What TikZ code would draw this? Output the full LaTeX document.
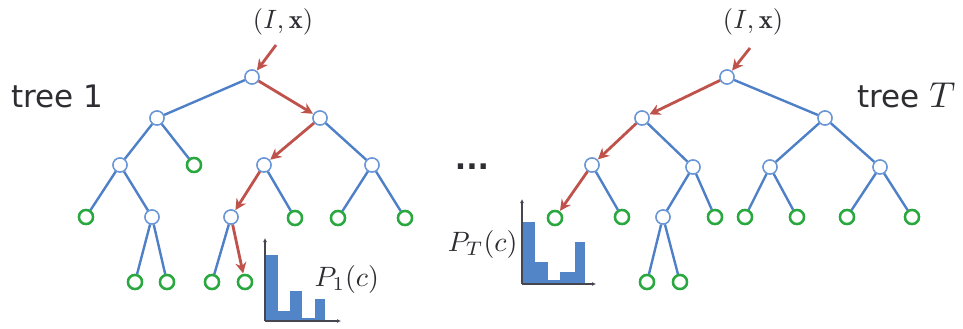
\documentclass[tikz,border=0pt]{standalone}
\usepackage{fontspec}
\setsansfont{DejaVu Sans}
\usetikzlibrary{arrows.meta}
\definecolor{edgeblue}{RGB}{78,128,200}
\definecolor{ringblue}{RGB}{105,150,215}
\definecolor{leafgreen}{RGB}{40,168,62}
\definecolor{pathred}{RGB}{192,82,76}
\definecolor{barblue}{RGB}{82,132,200}
\definecolor{axisgray}{RGB}{70,70,80}
\definecolor{inkgray}{RGB}{45,45,50}
\tikzset{
  inner/.style={circle,draw=ringblue,line width=1.4pt,fill=white,minimum size=14pt,inner sep=0pt},
  leaf/.style={circle,draw=leafgreen,line width=2.4pt,fill=white,minimum size=14pt,inner sep=0pt},
  branch/.style={draw=edgeblue,line width=2.4pt},
  walk/.style={draw=pathred,line width=2.8pt,-{Stealth[length=11pt,width=11pt]},shorten >=0.5pt},
  treelabel/.style={text=inkgray,font=\sffamily\fontsize{31}{31}\selectfont,anchor=base west,inner sep=0pt},
  mathlabel/.style={text=inkgray,font=\fontsize{10}{10}\selectfont,inner sep=0pt,scale=2.65},
  histlabel/.style={text=inkgray,font=\fontsize{10}{10}\selectfont,inner sep=0pt,scale=2.8},
  bar/.style={fill=barblue,draw=none},
  axis/.style={draw=axisgray,line width=1.2pt,-{Latex[length=4pt,width=4pt]}}
}
\begin{document}
\begin{tikzpicture}[x=1pt,y=-1pt]
\useasboundingbox[fill=white] (0,0) rectangle (963,329);

% ---------------- tree 1 ----------------
\node[treelabel] (lab1) at (11,107) {tree 1};
\node[mathlabel] (in1) at (283,22) {$(I,\mathbf{x})$};
\coordinate (s1) at (276,45);

\node[inner] (r1) at (252,77) {};
\node[inner] (a) at (157,118) {};
\node[inner] (b) at (320,118) {};
\node[inner] (aa) at (120,165) {};
\node[leaf]  (ab) at (194,165) {};
\node[inner] (ba) at (264,165) {};
\node[inner] (bb) at (372,165) {};
\node[leaf]  (aaa) at (86,217) {};
\node[inner] (aab) at (152,217) {};
\node[inner] (baa) at (231,217) {};
\node[leaf]  (bab) at (295,218) {};
\node[leaf]  (bba) at (338,218) {};
\node[leaf]  (bbb) at (405,218) {};
\node[leaf]  (aaba) at (135,282) {};
\node[leaf]  (aabb) at (167,282) {};
\node[leaf]  (baaa) at (212,282) {};
\node[leaf]  (baab) at (245,282) {};

\draw[branch] (r1) -- (a);
\draw[branch] (a) -- (aa);
\draw[branch] (a) -- (ab);
\draw[branch] (aa) -- (aaa);
\draw[branch] (aa) -- (aab);
\draw[branch] (aab) -- (aaba);
\draw[branch] (aab) -- (aabb);
\draw[branch] (b) -- (bb);
\draw[branch] (ba) -- (bab);
\draw[branch] (bb) -- (bba);
\draw[branch] (bb) -- (bbb);
\draw[branch] (baa) -- (baaa);

\draw[walk] (s1) -- (r1);
\draw[walk] (r1) -- (b);
\draw[walk] (b) -- (ba);
\draw[walk] (ba) -- (baa);
\draw[walk] (baa) -- (baab);

% histogram P_1(c)
\fill[bar] (265,321) rectangle (278,255);
\fill[bar] (278,321) rectangle (290,311);
\fill[bar] (290,321) rectangle (302,291);
\fill[bar] (302,321) rectangle (315,318);
\fill[bar] (315,321) rectangle (325,299);
\coordinate (o1) at (265,321);
\coordinate (y1) at (265,238);
\coordinate (x1) at (341,321);
\draw[axis] (o1) -- (y1);
\draw[axis] (o1) -- (x1);
\node[histlabel,anchor=west] (p1) at (314,279) {$P_1(c)$};

% ---------------- ellipsis ----------------
\node[text=inkgray,font=\sffamily\bfseries\fontsize{30}{30}\selectfont,inner sep=0pt,anchor=base] (dots) at (472,169) {...};

% ---------------- tree T ----------------
\node[treelabel] (labT) at (857,107) {tree {\fontsize{10}{10}\selectfont\scalebox{3.6}{$T$}}};
\node[mathlabel] (in2) at (753,22) {$(I,\mathbf{x})$};
\coordinate (s2) at (750,48);

\node[inner] (r2) at (727,77) {};
\node[inner] (c) at (642,118) {};
\node[inner] (d) at (825,118) {};
\node[inner] (ca) at (592,165) {};
\node[inner] (cb) at (693,167) {};
\node[inner] (da) at (770,167) {};
\node[inner] (db) at (880,167) {};
\node[leaf]  (caa) at (555,218) {};
\node[leaf]  (cab) at (622,217) {};
\node[inner] (cba) at (663,217) {};
\node[leaf]  (cbb) at (715,217) {};
\node[leaf]  (daa) at (745,217) {};
\node[leaf]  (dab) at (797,217) {};
\node[leaf]  (dba) at (847,217) {};
\node[leaf]  (dbb) at (912,217) {};
\node[leaf]  (cbaa) at (647,282) {};
\node[leaf]  (cbab) at (680,282) {};

\draw[branch] (r2) -- (d);
\draw[branch] (c) -- (cb);
\draw[branch] (ca) -- (cab);
\draw[branch] (cb) -- (cba);
\draw[branch] (cb) -- (cbb);
\draw[branch] (cba) -- (cbaa);
\draw[branch] (cba) -- (cbab);
\draw[branch] (d) -- (da);
\draw[branch] (d) -- (db);
\draw[branch] (da) -- (daa);
\draw[branch] (da) -- (dab);
\draw[branch] (db) -- (dba);
\draw[branch] (db) -- (dbb);

\draw[walk] (s2) -- (r2);
\draw[walk] (r2) -- (c);
\draw[walk] (c) -- (ca);
\draw[walk] (ca) -- (caa);

% histogram P_T(c)
\fill[bar] (522,284) rectangle (535,222);
\fill[bar] (535,284) rectangle (548,262);
\fill[bar] (548,284) rectangle (560,280);
\fill[bar] (560,284) rectangle (575,272);
\fill[bar] (575,284) rectangle (585,242);
\coordinate (o2) at (522,284);
\coordinate (y2) at (522,199);
\coordinate (x2) at (596,284);
\draw[axis] (o2) -- (y2);
\draw[axis] (o2) -- (x2);
\node[histlabel,anchor=east] (pT) at (518,244) {$P_T(c)$};

% redraw nodes on top of the branches
\foreach \n in {r1,a,b,aa,ba,bb,aab,baa,r2,c,d,ca,cb,da,db,cba}
  \node[inner] at (\n) {};
\foreach \n in {ab,aaa,bab,bba,bbb,aaba,aabb,baaa,baab,caa,cab,cbb,daa,dab,dba,dbb,cbaa,cbab}
  \node[leaf] at (\n) {};
\end{tikzpicture}
\end{document}
